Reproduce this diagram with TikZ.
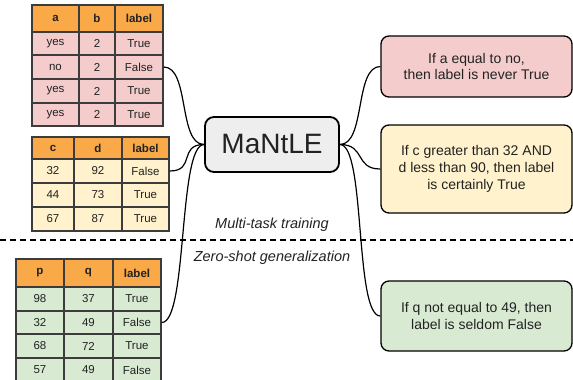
\documentclass[tikz,border=0pt]{standalone}
\usepackage{fontspec}
\setmainfont{Liberation Sans}
\definecolor{hdr}{HTML}{F9A947}
\definecolor{pinkc}{HTML}{F4CCCC}
\definecolor{yelc}{HTML}{FFF2CC}
\definecolor{grnc}{HTML}{D9EAD3}
\definecolor{grayc}{HTML}{EEEEEE}
\definecolor{bord}{HTML}{3C3C3C}
\definecolor{txt}{HTML}{222222}
\newcommand\tcell[8]{\node[cell,fill=#6,font=#7,minimum width=#3pt-#2pt,minimum height=#5pt-#4pt] (#1) at ({(#2+#3)/2},{(#4+#5)/2}) {#8};}
\begin{document}
\begin{tikzpicture}[x=1pt,y=-1pt,
  cell/.style={draw=bord,line width=1.5pt,inner sep=0pt,text=txt},
  rulebox/.style={draw=black,line width=1.3pt,rounded corners=8pt,align=center,text=txt,font=\fontsize{14}{16.8}\selectfont,inner sep=0pt,minimum width=191pt},
  conn/.style={draw=black,line width=1.2pt},
  scurve/.style={out=0,in=180,distance=26pt},
  lbl/.style={font=\fontsize{14.5}{16}\selectfont\itshape,text=txt}]
\useasboundingbox (0,0) rectangle (573,380);
% table 1
\tcell{t1h1}{32}{79}{5}{32}{hdr}{\fontsize{11.5}{13}\selectfont\bfseries}{a}
\tcell{t1h2}{79}{115}{5}{32}{hdr}{\fontsize{11.5}{13}\selectfont\bfseries}{b}
\tcell{t1h3}{115}{163}{5}{32}{hdr}{\fontsize{11.5}{13}\selectfont\bfseries}{label}
\foreach \r/\yt/\yb/\a/\b/\l in {1/32/55/yes/2/True,2/55/79/no/2/False,3/79/103/yes/2/True,4/103/126/yes/2/True}{
  \tcell{t1r\r c1}{32}{79}{\yt}{\yb}{pinkc}{\fontsize{11.5}{13}\selectfont}{\a}
  \tcell{t1r\r c2}{79}{115}{\yt}{\yb}{pinkc}{\fontsize{11.5}{13}\selectfont}{\b}
  \tcell{t1r\r c3}{115}{163}{\yt}{\yb}{pinkc}{\fontsize{11.5}{13}\selectfont}{\l}
}
% table 2
\tcell{t2h1}{32}{74}{137}{159}{hdr}{\fontsize{11.5}{13}\selectfont\bfseries}{c}
\tcell{t2h2}{74}{122}{137}{159}{hdr}{\fontsize{11.5}{13}\selectfont\bfseries}{d}
\tcell{t2h3}{122}{169}{137}{159}{hdr}{\fontsize{11.5}{13}\selectfont\bfseries}{label}
\foreach \r/\yt/\yb/\a/\b/\l in {1/159/183/32/92/False,2/183/207/44/73/True,3/207/231/67/87/True}{
  \tcell{t2r\r c1}{32}{74}{\yt}{\yb}{yelc}{\fontsize{11.5}{13}\selectfont}{\a}
  \tcell{t2r\r c2}{74}{122}{\yt}{\yb}{yelc}{\fontsize{11.5}{13}\selectfont}{\b}
  \tcell{t2r\r c3}{122}{169}{\yt}{\yb}{yelc}{\fontsize{11.5}{13}\selectfont}{\l}
}
% table 3
\tcell{t3h1}{16}{64}{259}{287}{hdr}{\fontsize{11.5}{13}\selectfont\bfseries}{p}
\tcell{t3h2}{64}{113}{259}{287}{hdr}{\fontsize{11.5}{13}\selectfont\bfseries}{q}
\tcell{t3h3}{113}{161}{259}{287}{hdr}{\fontsize{11.5}{13}\selectfont\bfseries}{label}
\foreach \r/\yt/\yb/\a/\b/\l in {1/287/311/98/37/True,2/311/334/32/49/False,3/334/358/68/72/True,4/358/382/57/49/False}{
  \tcell{t3r\r c1}{16}{64}{\yt}{\yb}{grnc}{\fontsize{11.5}{13}\selectfont}{\a}
  \tcell{t3r\r c2}{64}{113}{\yt}{\yb}{grnc}{\fontsize{11.5}{13}\selectfont}{\b}
  \tcell{t3r\r c3}{113}{161}{\yt}{\yb}{grnc}{\fontsize{11.5}{13}\selectfont}{\l}
}
% central model
\node[draw=black,line width=1.8pt,fill=grayc,rounded corners=9pt,minimum width=134pt,minimum height=55pt,inner sep=0pt,font=\fontsize{28}{30}\selectfont,text=txt] (mantle) at (272,144.5) {MaNtLE};
% rule boxes
\node[rulebox,fill=pinkc,minimum height=61pt] (r1) at (476.5,66.5) {If a equal to no,\\then label is never True};
\node[rulebox,fill=yelc,minimum height=88pt] (r2) at (476.5,169) {If c greater than 32 AND\\d less than 90, then label\\is certainly True};
\node[rulebox,fill=grnc,minimum height=70pt] (r3) at (476.5,316) {If q not equal to 49, then\\label is seldom False};
% separator
\coordinate (dl) at (0,240);
\coordinate (dr) at (573,240);
\draw[line width=1.2pt,dash pattern=on 6pt off 4pt] (dl) -- (dr);
\node[lbl] (mt) at (272,225) {Multi-task training};
\node[lbl] (zs) at (272,258) {Zero-shot generalization};
% connectors
\draw[conn] (t1r2c3.east) to[scurve] (mantle.west);
\draw[conn] (t2r1c3.east) to[scurve] (mantle.west);
\draw[conn] (t3r2c3.east) to[scurve] (mantle.west);
\draw[conn] (mantle.east) to[scurve] (r1.west);
\draw[conn] (mantle.east) to[scurve] (r2.west);
\draw[conn] (mantle.east) to[scurve] (r3.west);
\end{tikzpicture}
\end{document}
